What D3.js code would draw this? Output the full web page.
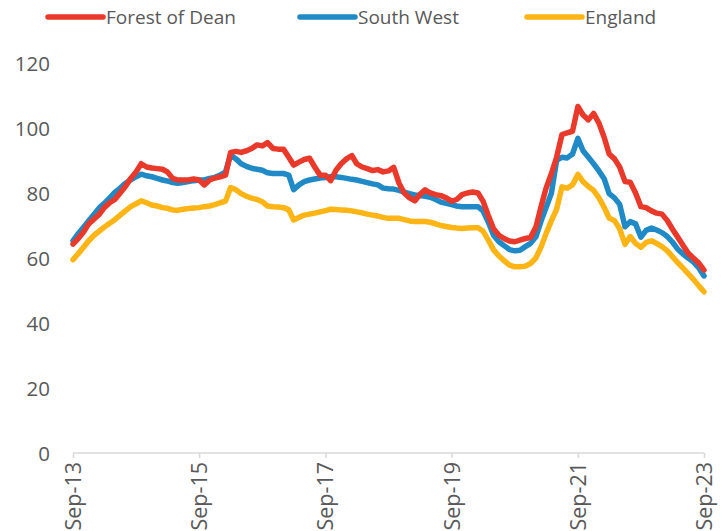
<!DOCTYPE html>
<html>
<head>
<meta charset="utf-8">
<script src="https://cdn.jsdelivr.net/npm/d3@7"></script>
<style>
  html, body { margin: 0; padding: 0; background: #fff; overflow: hidden; }
  svg { display: block; }
  text { font-family: "Open Sans", sans-serif; fill: #595959; }
</style>
</head>
<body>
<svg id="chart" width="724" height="531"></svg>
<script>
// ---- Data (monthly, Sep-13 .. Sep-23) ----
const startMonth = "2013-09";
const seriesNames = ["Forest of Dean", "South West", "England"];
const seriesColors = ["#E8392A", "#1F8AC6", "#FDB515"];

const forestOfDean = [
  64.3,66,68,70.5,72,73.5,75.5,77,78,80,82,84.5,86.5,89,88,87.7,87.5,87.3,86.5,84.5,
  84,84,84,84.3,84,82.5,84,84.6,85,85.5,92.5,92.8,92.5,93,93.7,94.8,94.5,95.5,93.7,93.5,
  93.5,91,88.6,89.5,90.3,90.7,88,85.5,85.5,83.8,87,89,90.5,91.5,89,88,87.5,86.9,87.2,86.5,
  86.8,87.9,83,80,78.5,77.6,79.5,81,80,79.5,79.2,78.5,77.5,78,79.5,80,80.3,80,77.5,73,
  69,67,66,65.2,65,65.5,66,66.3,69.5,76,81.5,86,91,98,98.5,99,106.6,104,102.5,104.5,
  101.5,97,92,90.5,88,83.5,83.3,80,75.8,75.5,74.5,73.8,73.5,71.5,69,66.5,64,61.5,60,58.5,
  56.3
];
const southWest = [
  65.3,67.5,69.5,71.5,73.5,75.5,76.8,78.5,80.2,81.5,83,84,85,85.8,85.3,85,84.5,84,83.7,83.2,
  83,83.2,83.5,83.8,84,84,84.5,84.8,85.5,86.5,91.7,90.5,89,88.2,87.6,87.3,87,86.2,86,86,
  86,85.5,81,82.5,83.5,84,84.3,84.6,84.8,85,85,84.8,84.5,84.2,84,83.6,83.2,82.8,82.5,81.5,
  81.3,81.2,80.8,80.3,79.8,79.4,79.2,79,78.7,78,77.2,76.8,76.4,76,75.8,75.8,75.8,75.8,74.5,71,
  67,65,63.8,62.6,62.2,62.4,63.5,64.5,66.5,71.5,75.5,80,90,91,90.8,92,96.8,93,91,89,
  86.8,84.3,79.8,78.5,76.5,69.6,71.2,70.5,66.4,68.5,69.2,68.6,67.8,66.6,65,62.8,61.3,60,58.8,57,
  54.5
];
const england = [
  59.5,61.3,63.3,65.3,67,68.3,69.5,70.7,71.8,73.2,74.5,75.8,76.7,77.6,77,76.3,76,75.5,75.3,74.8,
  74.7,75,75.2,75.4,75.5,75.8,76,76.4,77,77.5,81.7,81,79.8,79,78.4,78,77.3,76,75.8,75.7,
  75.5,74.8,71.7,72.5,73.2,73.5,73.8,74.2,74.6,75,74.9,74.8,74.7,74.5,74.2,73.9,73.5,73.2,72.9,72.5,
  72.2,72.2,72.2,71.8,71.4,71.2,71.2,71.2,71,70.5,70,69.7,69.4,69.2,69.1,69.2,69.3,69.3,68.3,65.5,
  62.5,60.6,59.2,57.8,57.3,57.3,57.5,58.3,60,63.5,67.5,71.5,75,81.9,81.5,82.5,85.7,83.5,82,80.8,
  78.5,75.5,72.3,71.5,69,64.2,66.6,64.5,63.3,64.8,65.3,64.5,63.5,62.2,60.5,58.6,57,55.2,53.5,51.5,
  49.6
];
const xTickLabels = ["Sep-13", "Sep-15", "Sep-17", "Sep-19", "Sep-21", "Sep-23"];
const yTicks = [0, 20, 40, 60, 80, 100, 120];

// ---- Build ----
const svg = d3.select("#chart");
const parseMonth = d3.timeParse("%Y-%m");
const months = d3.timeMonth.range(parseMonth(startMonth),
                                  d3.timeMonth.offset(parseMonth(startMonth), forestOfDean.length));
const x = d3.scaleTime().domain([months[0], months[months.length - 1]]).range([73, 704]);
const y = d3.scaleLinear().domain([0, 120]).range([453, 63]);

// y axis labels
const yAxis = svg.append("g").attr("transform", "translate(50,0)")
  .call(d3.axisLeft(y).tickValues(yTicks).tickSize(0).tickPadding(0));
yAxis.select(".domain").remove();
yAxis.selectAll("text").style("font-size", "20.5px").attr("fill", "#595959").attr("dy", "0.35em");

// x axis
const xTickDates = xTickLabels.map(l => d3.timeParse("%b-%y")(l));
const xAxis = svg.append("g").attr("transform", "translate(0,453)")
  .call(d3.axisBottom(x).tickValues(xTickDates).tickSize(5)
        .tickFormat((d, i) => xTickLabels[i]));
xAxis.select(".domain").attr("stroke", "#d9d9d9").attr("stroke-width", 1.5)
  .attr("d", `M${x(months[0])},0H${x(months[months.length-1])}`);
xAxis.selectAll(".tick line").attr("stroke", "#d9d9d9").attr("stroke-width", 1.5);
xAxis.selectAll(".tick text")
  .style("font-size", "21.5px").attr("fill", "#595959")
  .attr("transform", "rotate(-90)")
  .attr("text-anchor", "end")
  .attr("x", -9).attr("y", 0).attr("dy", "0.35em");

// lines (red drawn on top, then blue, then yellow below)
const allSeries = [forestOfDean, southWest, england];
const line = d3.line().x((d, i) => x(months[i])).y(d => y(d));
[2, 1, 0].forEach(k => {
  svg.append("path").datum(allSeries[k])
    .attr("d", line).attr("fill", "none")
    .attr("stroke", seriesColors[k]).attr("stroke-width", 5.5)
    .attr("stroke-linejoin", "round").attr("stroke-linecap", "round");
});

// legend
const legendX = [48, 300, 527];
seriesNames.forEach((name, k) => {
  const g = svg.append("g").attr("transform", `translate(${legendX[k]},17)`);
  g.append("line").attr("x1", 0).attr("x2", 55).attr("y1", 0).attr("y2", 0)
    .attr("stroke", seriesColors[k]).attr("stroke-width", 5.5).attr("stroke-linecap", "round");
  g.append("text").attr("x", 58).attr("y", 0).attr("dy", "0.35em")
    .style("font-size", "19px").text(name);
});
</script>
</body>
</html>
